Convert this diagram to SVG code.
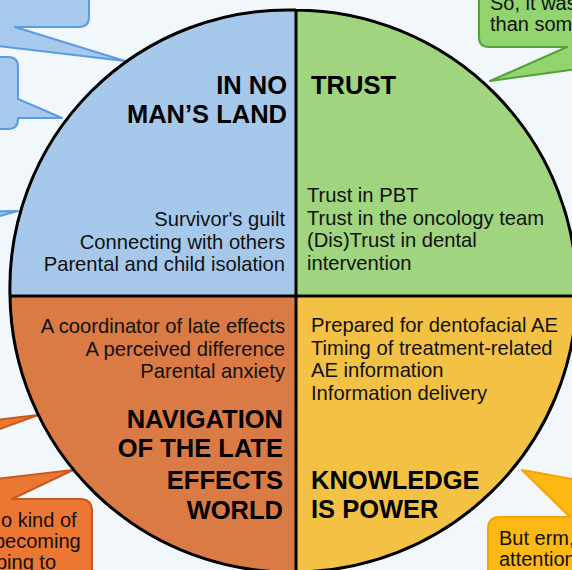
<svg xmlns="http://www.w3.org/2000/svg" width="572" height="570" viewBox="0 0 572 570">
  <style>
    .head { font-family: "Liberation Sans", Arial, sans-serif; font-weight: bold; font-size: 25.5px; fill: #000; }
    .item { font-family: "Liberation Sans", Arial, sans-serif; font-size: 20.2px; fill: #111; }
    .quote { font-family: "Liberation Sans", Arial, sans-serif; font-size: 20px; fill: #111; }
    .end { text-anchor: end; }
    .edge { fill: none; stroke: #000; stroke-width: 3; }
    .b-blue { fill: #a6c9ec; stroke: #5b9be0; stroke-width: 2; stroke-linejoin: round; }
    .b-green { fill: #93d46e; stroke: #4fa33a; stroke-width: 2; stroke-linejoin: round; }
    .b-orange { fill: #ec7732; stroke: #c65a1e; stroke-width: 2; stroke-linejoin: round; }
    .b-yellow { fill: #fdb913; stroke: #f5a300; stroke-width: 2; stroke-linejoin: round; }
  </style>

  <rect width="572" height="570" fill="#f2f7fc"/>

  <!-- quotation callouts around the wheel -->
  <g id="callout-blue-1">
    <path class="b-blue" d="M-20,-60 H79 Q89,-60 89,-50 V17 Q89,27 79,27 H15 L125,61 L-10,45 Z"/>
  </g>
  <g id="callout-blue-2">
    <path class="b-blue" d="M-40,57 H8 Q18,57 18,67 V99 L62,118 L18,118 V119 Q18,129 8,129 H-40 Z"/>
  </g>
  <g id="callout-blue-3">
    <path class="b-blue" d="M-30,212 L18,211 L-30,224 Z"/>
  </g>
  <g id="callout-green">
    <path class="b-green" d="M489,-40 H600 V66 L490,81 L567,47 H489 Q479,47 479,37 V-30 Q479,-40 489,-40 Z"/>
    <text class="quote" x="490" y="10">So, it was</text>
    <text class="quote" x="490" y="31">than som</text>
  </g>
  <g id="callout-orange-1">
    <path class="b-orange" d="M-30,423 L38,415 L-30,440 Z"/>
  </g>
  <g id="callout-orange-2">
    <path class="b-orange" d="M-40,483 L73,470 L12,499 H80 Q92,499 92,511 V600 H-40 Z"/>
    <text class="quote" x="1" y="527">o kind of</text>
    <text class="quote" x="-6" y="548">becoming</text>
    <text class="quote" x="-4" y="569">ping to</text>
  </g>
  <g id="callout-yellow">
    <path class="b-yellow" d="M610,486 L522,470 L570,517 H500 Q488,517 488,529 V600 H610 Z"/>
    <text class="quote" x="499" y="545">But erm,</text>
    <text class="quote" x="499" y="566">attention</text>
  </g>

  <!-- wheel quadrants -->
  <g id="in-no-mans-land">
    <path d="M296,296 L10,296 A278,278 0 0 1 296,10 Z" fill="#a6c9eb"/>
    <text class="head end" x="287" y="94">IN NO</text>
    <text class="head end" x="287" y="123">MAN’S LAND</text>
    <text class="item end" x="285" y="226">Survivor's guilt</text>
    <text class="item end" x="285" y="249">Connecting with others</text>
    <text class="item end" x="285" y="271">Parental and child isolation</text>
  </g>
  <g id="trust">
    <path d="M296,296 L296,10 A283,283 0 0 1 577,296 Z" fill="#a0d47e"/>
    <text class="head" x="311" y="94">TRUST</text>
    <text class="item" x="307" y="202">Trust in PBT</text>
    <text class="item" x="307" y="225">Trust in the oncology team</text>
    <text class="item" x="307" y="247">(Dis)Trust in dental</text>
    <text class="item" x="307" y="270">intervention</text>
  </g>
  <g id="knowledge-is-power">
    <path d="M296,296 L577,296 A283,283 0 0 1 296,572 Z" fill="#f3c245"/>
    <text class="item" x="311" y="332">Prepared for dentofacial AE</text>
    <text class="item" x="311" y="355">Timing of treatment-related</text>
    <text class="item" x="311" y="377">AE information</text>
    <text class="item" x="311" y="400">Information delivery</text>
    <text class="head" x="311" y="489">KNOWLEDGE</text>
    <text class="head" x="311" y="518">IS POWER</text>
  </g>
  <g id="navigation-of-late-effects">
    <path d="M296,296 L296,572 A280,280 0 0 1 10,296 Z" fill="#da7a45"/>
    <text class="item end" x="285" y="333">A coordinator of late effects</text>
    <text class="item end" x="285" y="356">A perceived difference</text>
    <text class="item end" x="285" y="378">Parental anxiety</text>
    <text class="head end" x="283" y="428">NAVIGATION</text>
    <text class="head end" x="283" y="457">OF THE LATE</text>
    <text class="head end" x="283" y="489">EFFECTS</text>
    <text class="head end" x="283" y="519">WORLD</text>
  </g>

  <!-- outline and dividing lines -->
  <g id="connectors">
    <path class="edge" d="M10,296 A278,278 0 0 1 296,10 A283,283 0 0 1 577,296 A283,283 0 0 1 296,572 A280,280 0 0 1 10,296 Z"/>
    <line class="edge" x1="296" y1="10" x2="296" y2="572"/>
    <line class="edge" x1="10" y1="296" x2="577" y2="296"/>
  </g>
</svg>
